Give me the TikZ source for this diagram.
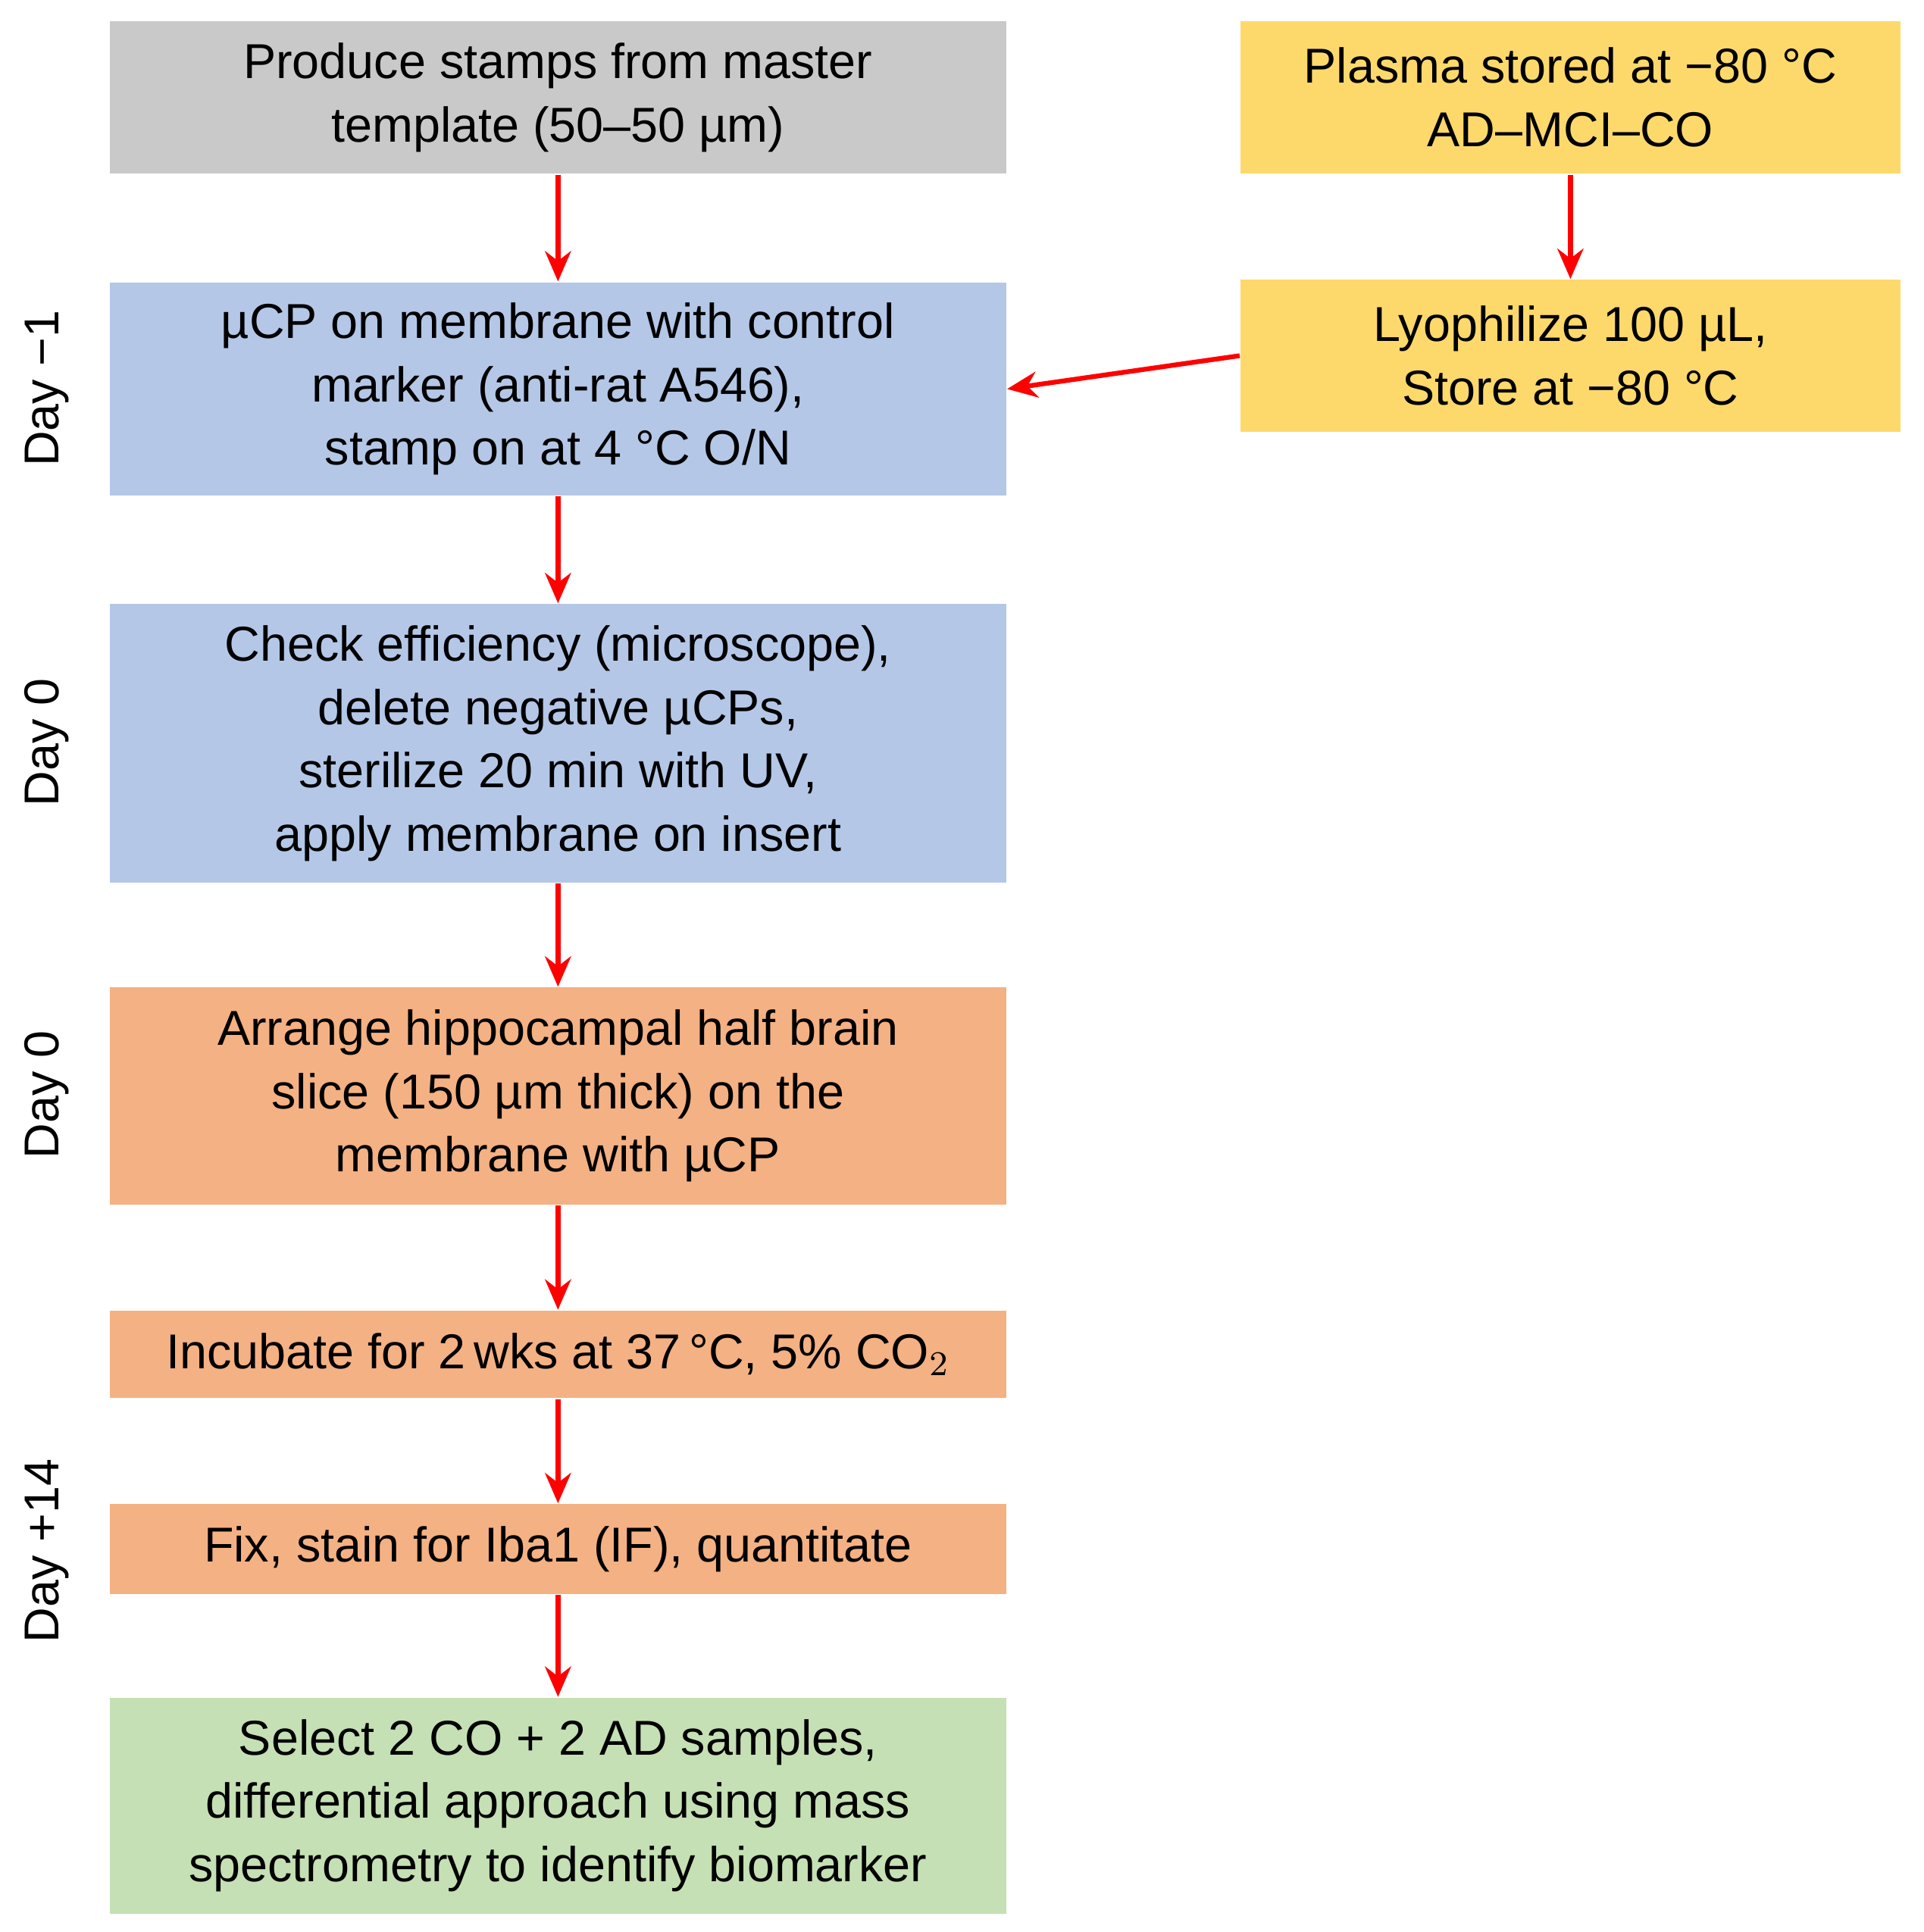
\documentclass[tikz,border=0pt]{standalone}
\usepackage{fontspec}
\setmainfont{Liberation Sans}
\usetikzlibrary{arrows.meta}
\definecolor{cgray}{HTML}{C9C9C9}
\definecolor{cyel}{HTML}{FDD96C}
\definecolor{cblue}{HTML}{B4C7E7}
\definecolor{corange}{HTML}{F4B183}
\definecolor{cgreen}{HTML}{C5E0B4}
\begin{document}
\begin{tikzpicture}[x=0.01cm,y=-0.01cm,
  box/.style={inner sep=0pt,align=center,font=\fontsize{11.3pt}{14.6pt}\selectfont},
  arr/.style={draw=red,line width=1.1pt,-{Stealth[length=7pt,width=6pt]}},
  daylab/.style={rotate=90,font=\fontsize{11.3pt}{14pt}\selectfont}]
\useasboundingbox (0,0) rectangle (1560,1567);
\newcommand{\bx}[6]{\fill[#6] (#2,#3) rectangle (#4,#5);
  \node[box,minimum width={(#4-#2)*0.01cm},minimum height={(#5-#3)*0.01cm}] (#1) at ({(#2+#4)/2},{(#3+#5)/2}) {};}
\bx{g}{89}{17}{816}{141}{cgray}
\bx{ya}{1006}{17}{1541}{141}{cyel}
\bx{yb}{1006}{227}{1541}{350}{cyel}
\bx{ba}{89}{229}{816}{402}{cblue}
\bx{bb}{89}{490}{816}{716}{cblue}
\bx{oa}{89}{801}{816}{977}{corange}
\bx{ob}{89}{1063}{816}{1134}{corange}
\bx{oc}{89}{1220}{816}{1293}{corange}
\bx{gr}{89}{1377}{816}{1552}{cgreen}
\node[box] (tg) at (g) {Produce stamps from master\\template (50–50 µm)};
\node[box] (tya) at (ya) {Plasma stored at −80 °C\\AD–MCI–CO};
\node[box] (tyb) at (yb) {Lyophilize 100 µL,\\Store at −80 °C};
\node[box] (tba) at (ba) {µCP on membrane with control\\marker (anti-rat A546),\\stamp on at 4 °C O/N};
\node[box] (tbb) at (bb) {Check efficiency (microscope),\\delete negative µCPs,\\sterilize 20 min with UV,\\apply membrane on insert};
\node[box] (toa) at (oa) {Arrange hippocampal half brain\\slice (150 µm thick) on the\\membrane with µCP};
\node[box] (tob) at (ob) {Incubate for 2\,wks at 37\,°C, 5\% CO$_2$};
\node[box] (toc) at (oc) {Fix, stain for Iba1 (IF), quantitate};
\node[box] (tgr) at (gr) {Select 2 CO + 2 AD samples,\\differential approach using mass\\spectrometry to identify biomarker};
\node[daylab] (d1) at (38,315) {Day −1};
\node[daylab] (d2) at (38,602) {Day 0};
\node[daylab] (d3) at (38,888) {Day 0};
\node[daylab] (d4) at (38,1258) {Day +14};
\draw[arr] (g.south) -- (ba.north);
\draw[arr] (ya.south) -- (yb.north);
\draw[arr] (yb.west) -- (ba.east);
\draw[arr] (ba.south) -- (bb.north);
\draw[arr] (bb.south) -- (oa.north);
\draw[arr] (oa.south) -- (ob.north);
\draw[arr] (ob.south) -- (oc.north);
\draw[arr] (oc.south) -- (gr.north);
\end{tikzpicture}
\end{document}
